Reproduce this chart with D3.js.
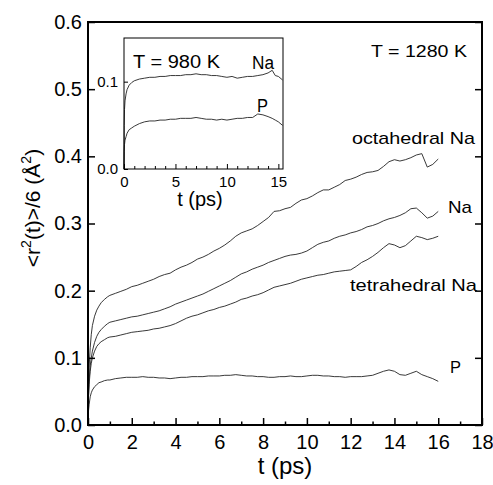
<!DOCTYPE html>
<html>
<head>
<meta charset="utf-8">
<script src="https://cdn.jsdelivr.net/npm/d3@7"></script>
<style>
  body { margin: 0; background: #fff; }
  svg { display: block; font-family: "Liberation Sans", Arial, sans-serif; }
</style>
</head>
<body>
<svg id="chart" width="493" height="485"></svg>
<script>
// Main panel, T = 1280 K
const mainTime = [0, 0.02, 0.05, 0.1, 0.15, 0.2, 0.3, 0.4, 0.5, 0.6, 0.75, 0.9,
  1, 1.25, 1.5, 1.75, 2, 2.25, 2.5, 2.75, 3, 3.25, 3.5, 3.75, 4, 4.25, 4.5, 4.75,
  5, 5.25, 5.5, 5.75, 6, 6.25, 6.5, 6.75, 7, 7.25, 7.5, 7.75, 8, 8.25, 8.5, 8.75,
  9, 9.25, 9.5, 9.75, 10, 10.25, 10.5, 10.75, 11, 11.25, 11.5, 11.75, 12, 12.25,
  12.5, 12.75, 13, 13.25, 13.5, 13.75, 14, 14.25, 14.5, 14.75, 15, 15.25, 15.5, 15.75, 16];

const octaNa = [0, 0.05, 0.085, 0.115, 0.135, 0.148, 0.162, 0.171, 0.177, 0.182, 0.187, 0.191,
  0.193, 0.196, 0.199, 0.202, 0.206, 0.208, 0.211, 0.214, 0.217, 0.221, 0.224, 0.226, 0.231, 0.235, 0.238, 0.242,
  0.247, 0.250, 0.254, 0.259, 0.263, 0.268, 0.274, 0.281, 0.286, 0.289, 0.292, 0.297, 0.303, 0.309, 0.318, 0.319,
  0.322, 0.324, 0.330, 0.335, 0.337, 0.341, 0.346, 0.350, 0.350, 0.354, 0.358, 0.364, 0.366, 0.369,
  0.373, 0.376, 0.377, 0.379, 0.385, 0.392, 0.395, 0.393, 0.395, 0.398, 0.402, 0.404, 0.384, 0.388, 0.396];

const allNa = [0, 0.04, 0.065, 0.088, 0.1, 0.11, 0.123, 0.132, 0.138, 0.142, 0.147, 0.151,
  0.153, 0.155, 0.157, 0.159, 0.161, 0.162, 0.164, 0.166, 0.168, 0.170, 0.173, 0.176, 0.180, 0.183, 0.186, 0.189,
  0.192, 0.195, 0.199, 0.203, 0.207, 0.211, 0.215, 0.220, 0.225, 0.228, 0.232, 0.235, 0.238, 0.242, 0.245, 0.248,
  0.251, 0.253, 0.254, 0.256, 0.259, 0.264, 0.269, 0.272, 0.274, 0.278, 0.281, 0.283, 0.286, 0.288,
  0.291, 0.295, 0.297, 0.300, 0.304, 0.307, 0.309, 0.312, 0.316, 0.322, 0.323, 0.316, 0.308, 0.311, 0.318];

const tetraNa = [0, 0.04, 0.06, 0.08, 0.092, 0.1, 0.11, 0.117, 0.121, 0.124, 0.127, 0.13,
  0.131, 0.132, 0.134, 0.136, 0.138, 0.139, 0.140, 0.141, 0.143, 0.144, 0.146, 0.148, 0.151, 0.155, 0.159, 0.162,
  0.164, 0.167, 0.170, 0.172, 0.175, 0.177, 0.180, 0.183, 0.187, 0.189, 0.192, 0.194, 0.197, 0.201, 0.205, 0.207,
  0.209, 0.211, 0.214, 0.217, 0.219, 0.221, 0.223, 0.224, 0.226, 0.228, 0.229, 0.230, 0.231, 0.236,
  0.242, 0.246, 0.251, 0.257, 0.264, 0.270, 0.268, 0.264, 0.267, 0.274, 0.281, 0.279, 0.276, 0.278, 0.281];

const allP = [0, 0.02, 0.03, 0.042, 0.048, 0.052, 0.057, 0.06, 0.063, 0.064, 0.066, 0.067,
  0.067, 0.069, 0.070, 0.071, 0.071, 0.071, 0.072, 0.071, 0.071, 0.070, 0.070, 0.069, 0.070, 0.071, 0.071, 0.072,
  0.072, 0.072, 0.073, 0.073, 0.073, 0.074, 0.074, 0.075, 0.074, 0.073, 0.073, 0.072, 0.072, 0.071, 0.071, 0.072,
  0.072, 0.073, 0.072, 0.072, 0.073, 0.074, 0.074, 0.073, 0.073, 0.072, 0.072, 0.071, 0.072, 0.072,
  0.072, 0.073, 0.074, 0.077, 0.080, 0.082, 0.080, 0.075, 0.074, 0.077, 0.080, 0.075, 0.072, 0.069, 0.065];

// Inset, T = 980 K
const insetTime = [0, 0.02, 0.05, 0.1, 0.2, 0.3, 0.5, 0.75, 1, 1.5, 2, 2.5, 3, 3.5, 4, 4.5, 5, 5.5,
  6, 6.5, 7, 7.5, 8, 8.5, 9, 9.5, 10, 10.5, 11, 11.5, 12, 12.5, 13, 13.5, 14, 14.4, 14.7, 15, 15.4];
const insetNa = [0, 0.05, 0.068, 0.078, 0.086, 0.091, 0.096, 0.099, 0.101, 0.103, 0.104, 0.105, 0.105, 0.106, 0.106, 0.107, 0.107, 0.107,
  0.108, 0.108, 0.109, 0.108, 0.108, 0.107, 0.107, 0.106, 0.105, 0.106, 0.104, 0.105, 0.106, 0.106, 0.107, 0.108, 0.110, 0.113, 0.107, 0.106, 0.102];
const insetP = [0, 0.02, 0.028, 0.033, 0.037, 0.041, 0.045, 0.047, 0.049, 0.052, 0.054, 0.055, 0.055, 0.056, 0.056, 0.057, 0.057, 0.058,
  0.058, 0.058, 0.059, 0.058, 0.057, 0.057, 0.056, 0.057, 0.056, 0.057, 0.058, 0.058, 0.059, 0.059, 0.063, 0.062, 0.060, 0.058, 0.056, 0.054, 0.050];

const mainXTicks = [0, 2, 4, 6, 8, 10, 12, 14, 16, 18];
const mainXMinor = [1, 3, 5, 7, 9, 11, 13, 15, 17];
const mainYTicks = [0, 0.1, 0.2, 0.3, 0.4, 0.5, 0.6];
const insetXTicks = [0, 5, 10, 15];
const insetXMinor = [1, 2, 3, 4, 6, 7, 8, 9, 11, 12, 13, 14];
const insetYTicks = [0, 0.1];

const svg = d3.select("#chart");

// main scales
const x = d3.scaleLinear().domain([0, 18]).range([88, 482]);
const y = d3.scaleLinear().domain([0, 0.6]).range([425, 22]);

const line = d3.line().x(d => x(d[0])).y(d => y(d[1]));

[octaNa, allNa, tetraNa, allP].forEach(series => {
  svg.append("path")
    .datum(mainTime.map((t, i) => [t, series[i]]))
    .attr("d", line)
    .attr("fill", "none")
    .attr("stroke", "#222")
    .attr("stroke-width", 0.9);
});

// axes, ticks pointing inward
svg.append("g")
  .attr("transform", "translate(0,425)")
  .call(d3.axisBottom(x).tickValues(mainXTicks).tickSize(-7).tickPadding(10).tickFormat(d3.format("d")))
  .call(g => g.select(".domain").remove());
svg.append("g")
  .attr("transform", "translate(0,425)")
  .call(d3.axisBottom(x).tickValues(mainXMinor).tickSize(-3.5).tickFormat(""))
  .call(g => g.select(".domain").remove());
svg.append("g")
  .attr("transform", "translate(88,0)")
  .call(d3.axisLeft(y).tickValues(mainYTicks).tickSize(-7).tickPadding(6).tickFormat(d3.format(".1f")))
  .call(g => g.select(".domain").remove());
svg.append("g")
  .attr("transform", "translate(482,0)")
  .call(d3.axisRight(y).tickValues(mainYTicks).tickSize(-7).tickFormat(""))
  .call(g => g.select(".domain").remove());

svg.selectAll(".tick line").attr("stroke", "#000").attr("stroke-width", 1.5);
svg.selectAll(".tick text").attr("font-size", 20).attr("fill", "#000").attr("font-family", null);

svg.append("rect")
  .attr("x", 88).attr("y", 22)
  .attr("width", 394).attr("height", 403)
  .attr("fill", "none").attr("stroke", "#000").attr("stroke-width", 2);

// axis titles
svg.append("text")
  .attr("x", 285).attr("y", 474)
  .attr("text-anchor", "middle")
  .attr("font-size", 24)
  .text("t (ps)");

const yl = svg.append("text")
  .attr("transform", "translate(40,208) rotate(-90)")
  .attr("text-anchor", "middle")
  .attr("font-size", 21);
yl.append("tspan").text("<r");
yl.append("tspan").attr("dy", -9).attr("font-size", 14).text("2");
yl.append("tspan").attr("dy", 9).text("(t)>/6 (Å");
yl.append("tspan").attr("dy", -9).attr("font-size", 14).text("2");
yl.append("tspan").attr("dy", 9).text(")");

// series labels
const labels = [
  { text: "T = 1280 K", x: 371, y: 57, w: 96, size: 16 },
  { text: "octahedral Na", x: 352, y: 144, w: 123, size: 17 },
  { text: "Na", x: 448, y: 213, w: 24, size: 17 },
  { text: "tetrahedral Na", x: 350, y: 291, w: 127, size: 17 },
  { text: "P", x: 450, y: 373, w: 11, size: 17 }
];
labels.forEach(l => {
  svg.append("text")
    .attr("x", l.x).attr("y", l.y)
    .attr("font-size", l.size)
    .attr("textLength", l.w)
    .attr("lengthAdjust", "spacingAndGlyphs")
    .text(l.text);
});

// inset
const ix = d3.scaleLinear().domain([0, 15.45]).range([124, 283]);
const iy = d3.scaleLinear().domain([0, 0.15]).range([169, 38]);
const iline = d3.line().x(d => ix(d[0])).y(d => iy(d[1]));

const inset = svg.append("g");
inset.append("rect")
  .attr("x", 124).attr("y", 38)
  .attr("width", 159).attr("height", 131)
  .attr("fill", "#fff").attr("stroke", "none");

[insetNa, insetP].forEach(series => {
  inset.append("path")
    .datum(insetTime.map((t, i) => [t, series[i]]))
    .attr("d", iline)
    .attr("fill", "none")
    .attr("stroke", "#222")
    .attr("stroke-width", 0.9);
});

inset.append("g")
  .attr("transform", "translate(0,169)")
  .call(d3.axisBottom(ix).tickValues(insetXTicks).tickSize(-5).tickPadding(7).tickFormat(d3.format("d")))
  .call(g => g.select(".domain").remove());
inset.append("g")
  .attr("transform", "translate(0,169)")
  .call(d3.axisBottom(ix).tickValues(insetXMinor).tickSize(-3).tickFormat(""))
  .call(g => g.select(".domain").remove());
inset.append("g")
  .attr("transform", "translate(124,0)")
  .call(d3.axisLeft(iy).tickValues(insetYTicks).tickSize(-4).tickPadding(6).tickFormat(d3.format(".1f")))
  .call(g => g.select(".domain").remove());

inset.selectAll(".tick line").attr("stroke", "#000").attr("stroke-width", 1);
inset.selectAll(".tick text").attr("font-size", 15).attr("fill", "#000").attr("font-family", null);

inset.append("rect")
  .attr("x", 124).attr("y", 38)
  .attr("width", 159).attr("height", 131)
  .attr("fill", "none").attr("stroke", "#000").attr("stroke-width", 1);

inset.append("text")
  .attr("x", 200).attr("y", 206)
  .attr("text-anchor", "middle")
  .attr("font-size", 20)
  .text("t (ps)");

const insetLabels = [
  { text: "T = 980 K", x: 133, y: 68, w: 87, size: 18 },
  { text: "Na", x: 252, y: 69, w: 22, size: 18 },
  { text: "P", x: 257, y: 112, w: 11, size: 18 }
];
insetLabels.forEach(l => {
  inset.append("text")
    .attr("x", l.x).attr("y", l.y)
    .attr("font-size", l.size)
    .attr("textLength", l.w)
    .attr("lengthAdjust", "spacingAndGlyphs")
    .text(l.text);
});
</script>
</body>
</html>
